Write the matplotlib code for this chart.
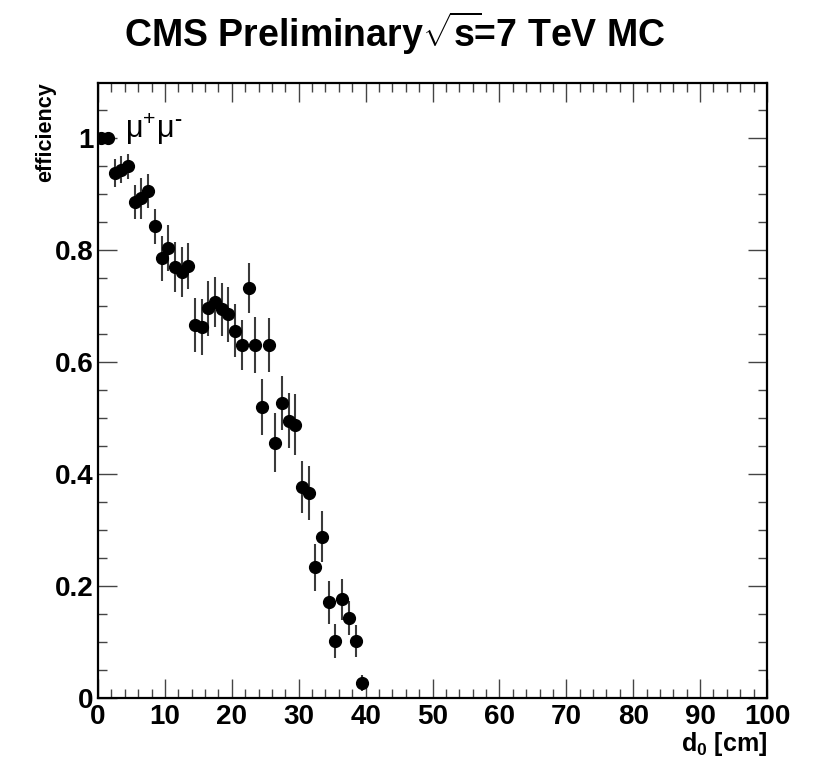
#!/usr/bin/env python3

import matplotlib
matplotlib.use("Agg")
import matplotlib.pyplot as plt
from matplotlib.ticker import MultipleLocator

# d0 bin centres [cm], efficiency and its uncertainty
d0_cm = [0.5, 1.5, 2.5, 3.5, 4.5, 5.5, 6.5, 7.5, 8.5, 9.5,
         10.5, 11.5, 12.5, 13.5, 14.5, 15.5, 16.5, 17.5, 18.5, 19.5,
         20.5, 21.5, 22.5, 23.5, 24.5, 25.5, 26.5, 27.5, 28.5, 29.5,
         30.5, 31.5, 32.5, 33.5, 34.5, 35.5, 36.5, 37.5, 38.5, 39.5]
efficiency = [1.000, 1.000, 0.937, 0.943, 0.949, 0.886, 0.892, 0.905, 0.842, 0.785,
              0.804, 0.770, 0.761, 0.772, 0.666, 0.662, 0.696, 0.707, 0.694, 0.685,
              0.656, 0.630, 0.732, 0.630, 0.520, 0.630, 0.456, 0.526, 0.495, 0.488,
              0.377, 0.366, 0.233, 0.288, 0.171, 0.102, 0.176, 0.143, 0.102, 0.027]
eff_err = [0.000, 0.000, 0.025, 0.024, 0.022, 0.030, 0.036, 0.030, 0.031, 0.040,
           0.041, 0.045, 0.045, 0.041, 0.049, 0.050, 0.049, 0.044, 0.047, 0.049,
           0.048, 0.044, 0.044, 0.050, 0.050, 0.048, 0.052, 0.048, 0.049, 0.054,
           0.046, 0.048, 0.042, 0.046, 0.038, 0.031, 0.037, 0.031, 0.029, 0.014]

W, H = 821, 766

plt.rcParams.update(
    {
        "font.family": "Liberation Sans",
        "font.weight": "bold",
        "mathtext.fontset": "custom",
        "mathtext.rm": "Liberation Sans:bold",
        "mathtext.bf": "Liberation Sans:bold",
        "mathtext.it": "Liberation Sans:bold",
        "mathtext.sf": "Liberation Sans",
    }
)

fig = plt.figure(figsize=(W / 100, H / 100), dpi=100, facecolor="white")
ax = fig.add_axes([98 / W, 1 - 698 / H, (767 - 98) / W, (698 - 83) / H])

ax.errorbar(d0_cm, efficiency, yerr=eff_err, fmt="o", color="black",
            ecolor="#3a3a3a", elinewidth=1.5, markersize=8.5, capsize=0, zorder=3)

ax.set_xlim(0, 100)
ax.set_ylim(0, 1.098)
ax.xaxis.set_major_locator(MultipleLocator(10))
ax.xaxis.set_minor_locator(MultipleLocator(2))
ax.yaxis.set_minor_locator(MultipleLocator(0.05))
ax.set_yticks([0, 0.2, 0.4, 0.6, 0.8, 1.0])
ax.set_yticklabels(["0", "0.2", "0.4", "0.6", "0.8", "1"])

ax.tick_params(which="both", direction="in", top=True, right=True,
               labelsize=20, color="#444444", width=1.0)
ax.tick_params(which="major", length=13.5)
ax.tick_params(which="minor", length=6.8)
ax.tick_params(axis="x", pad=4)
ax.tick_params(axis="y", pad=3)
for spine in ax.spines.values():
    spine.set_linewidth(1.6)
    spine.set_color("black")

fig.text(395 / W, 1 - 47 / H, r"CMS Preliminary$\sqrt{\mathrm{s}}\!$=7 TeV MC",
         ha="center", va="baseline", fontsize=27, fontweight="bold")
fig.text(46 / W, 1 - 82 / H, "efficiency", rotation=90, ha="center", va="top",
         fontsize=15.5, fontweight="bold")
fig.text(767 / W, 1 - 751 / H, r"$\mathrm{d_0}$ [cm]", ha="right", va="baseline",
         fontsize=18, fontweight="bold")
ax.text(4.0, 1.0, r"$\mathregular{\mu^{+}\mu^{\text{-}}}$", ha="left", va="baseline",
        fontsize=22, fontweight="normal")

fig.savefig("out.png", dpi=100, facecolor="white")
plt.close(fig)
